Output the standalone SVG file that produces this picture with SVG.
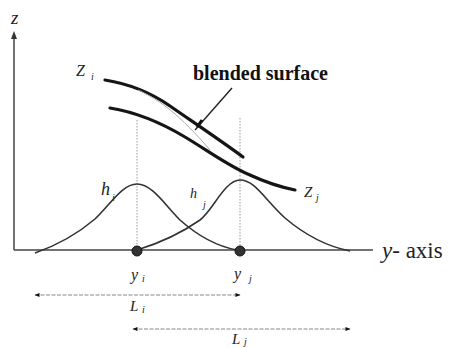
<svg xmlns="http://www.w3.org/2000/svg" width="451" height="348" viewBox="0 0 451 348">
<style>
.lbl{font-family:"Liberation Serif","Times New Roman",serif;font-style:italic;fill:#222}
.thick{fill:none;stroke:#151515;stroke-width:3.2;stroke-linecap:round}
.bell{fill:none;stroke:#333;stroke-width:1.6}
.axis{fill:none;stroke:#444;stroke-width:1.5}
.dot{fill:none;stroke:#999;stroke-width:1;stroke-dasharray:1.5,1.5}
.dim{fill:none;stroke:#888;stroke-width:1;stroke-dasharray:4,1.5}
</style>
<defs>
<marker id="ah" viewBox="0 0 10 10" refX="9" refY="5" markerWidth="7" markerHeight="5" orient="auto-start-reverse" markerUnits="userSpaceOnUse">
<path d="M0,1 L10,5 L0,9 Z" fill="#111"/>
</marker>
</defs>
<rect width="451" height="348" fill="#fff"/>
<g id="axes">
<line class="axis" x1="14" y1="250" x2="14" y2="36"/>
<path d="M14,31 L11,39 L17,39 Z" fill="#333"/>
<line class="axis" x1="14" y1="250" x2="373" y2="250"/>
<text class="lbl" x="11" y="24" font-size="19">z</text>
<text x="382" y="258" font-family="Liberation Serif,serif" font-size="23" fill="#222"><tspan font-style="italic">y</tspan>- axis</text>
</g>
<g id="guides">
<line class="dot" x1="137" y1="120" x2="137" y2="250"/>
<line class="dot" x1="240" y1="118" x2="240" y2="250"/>
</g>
<g id="surface-i">
<path class="thick" d="M105,80 C130,84 150,92 170,106 S220,140 243,157"/>
<text class="lbl" x="76" y="76" font-size="16">Z</text>
<text class="lbl" x="91" y="80" font-size="10">i</text>
</g>
<g id="surface-j">
<path class="thick" d="M110,108 C135,112 160,122 185,137 C210,152 230,167 250,175 C265,182 280,187 295,190"/>
<text class="lbl" x="304" y="197" font-size="15">Z</text>
<text class="lbl" x="316" y="201" font-size="10">j</text>
</g>
<g id="blended">
<path d="M138,90 C160,100 180,115 210,150" fill="none" stroke="#aaa" stroke-width="1"/>
<line x1="232" y1="88" x2="195" y2="130" stroke="#222" stroke-width="1.4"/>
<line x1="202" y1="120" x2="197" y2="127" stroke="#111" stroke-width="3"/>
<text x="193" y="80" font-family="Liberation Serif,serif" font-weight="bold" font-size="20" fill="#111">blended surface</text>
</g>
<g id="h-i">
<path class="bell" d="M35,253 C55,246 75,236 95,219 C110,205 122,184 137,184 C152,184 165,205 180,220 C198,236 215,246 237,250"/>
<text class="lbl" x="101" y="195" font-size="18">h</text>
<text class="lbl" x="112" y="201" font-size="10">i</text>
</g>
<g id="h-j">
<path class="bell" d="M137,250 C160,243 180,234 200,220 C213,210 225,180 240,180 C255,180 265,200 285,218 C305,235 325,246 350,251"/>
<text class="lbl" x="190" y="198" font-size="14">h</text>
<text class="lbl" x="203" y="208" font-size="10">j</text>
</g>
<g id="point-i">
<circle cx="137" cy="251" r="5" fill="#333" stroke="#111" stroke-width="1"/>
<text class="lbl" x="131" y="280" font-size="16">y</text>
<text class="lbl" x="142" y="282" font-size="10">i</text>
</g>
<g id="point-j">
<circle cx="240" cy="251" r="5" fill="#333" stroke="#111" stroke-width="1"/>
<text class="lbl" x="234" y="279" font-size="16">y</text>
<text class="lbl" x="249" y="282" font-size="10">j</text>
</g>
<g id="connectors">
<line class="dim" x1="35" y1="295" x2="240" y2="295" marker-start="url(#ah)" marker-end="url(#ah)"/>
<line class="dim" x1="133" y1="329" x2="350" y2="329" marker-start="url(#ah)" marker-end="url(#ah)"/>
</g>
<g id="label-Li">
<text class="lbl" x="130" y="311" font-size="15">L</text>
<text class="lbl" x="142" y="313" font-size="10">i</text>
</g>
<g id="label-Lj">
<text class="lbl" x="232" y="344" font-size="15">L</text>
<text class="lbl" x="244" y="345" font-size="10">j</text>
</g>
</svg>
